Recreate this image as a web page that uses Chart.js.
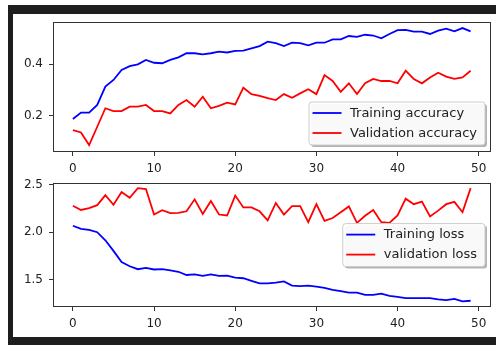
<!DOCTYPE html>
<html><head><meta charset="utf-8">
<script src="https://cdn.jsdelivr.net/npm/chart.js@4"></script>
<style>
html,body{margin:0;padding:0;background:#fff;width:496px;height:345px;overflow:hidden}
#frame{position:absolute;left:8px;top:5px;width:488px;height:340px;background:#1e1e1e}
#inner{position:absolute;left:13px;top:14px;width:483px;height:323px;background:#fff}
canvas{position:absolute;left:0}
#c1{top:0}
#c2{top:170px}
</style></head><body>
<div id="frame"></div><div id="inner"></div>
<canvas id="c1" width="496" height="175"></canvas>
<canvas id="c2" width="496" height="175"></canvas>
<script>
const epochs = Array.from({length:50},(_,i)=>i);
const trainAcc = [0.187,0.212,0.212,0.242,0.313,0.339,0.378,0.393,0.400,0.417,
 0.406,0.404,0.417,0.427,0.443,0.443,0.439,0.443,0.449,0.446,
 0.452,0.453,0.462,0.471,0.488,0.482,0.471,0.484,0.482,0.474,
 0.484,0.484,0.497,0.497,0.510,0.507,0.515,0.512,0.501,0.518,
 0.533,0.534,0.527,0.527,0.518,0.531,0.539,0.528,0.541,0.528];
const valAcc = [0.144,0.135,0.086,0.157,0.229,0.218,0.218,0.235,0.235,0.242,
 0.218,0.218,0.209,0.242,0.261,0.235,0.274,0.229,0.238,0.251,
 0.244,0.309,0.284,0.277,0.268,0.261,0.284,0.270,0.287,0.303,
 0.284,0.358,0.335,0.293,0.326,0.284,0.326,0.343,0.335,0.335,
 0.326,0.375,0.343,0.326,0.349,0.367,0.352,0.343,0.349,0.375];
const trainLoss = [2.068,2.034,2.024,2.000,1.915,1.803,1.685,1.641,1.610,1.624,
 1.607,1.610,1.597,1.583,1.549,1.556,1.539,1.556,1.539,1.542,
 1.522,1.515,1.488,1.461,1.461,1.468,1.481,1.437,1.431,1.437,
 1.427,1.414,1.393,1.380,1.363,1.363,1.339,1.339,1.353,1.329,
 1.319,1.305,1.305,1.305,1.305,1.292,1.285,1.298,1.271,1.278];
const valLoss = [2.278,2.234,2.254,2.285,2.390,2.288,2.424,2.363,2.464,2.454,
 2.186,2.231,2.200,2.203,2.220,2.346,2.193,2.329,2.186,2.176,
 2.386,2.261,2.261,2.220,2.125,2.308,2.186,2.275,2.275,2.105,
 2.295,2.119,2.149,2.210,2.271,2.098,2.173,2.234,2.105,2.098,
 2.176,2.353,2.295,2.322,2.166,2.227,2.295,2.319,2.210,2.464];
const xTicks = [0,10,20,30,40,50];
const accTicks = [0.2,0.4];
const lossTicks = [1.5,2.0,2.5];

const FONT = 'DejaVu Sans';
const TXT = '#222';

function rr(ctx,x,y,w,h,r){
  ctx.beginPath();
  ctx.moveTo(x+r,y);ctx.lineTo(x+w-r,y);ctx.quadraticCurveTo(x+w,y,x+w,y+r);
  ctx.lineTo(x+w,y+h-r);ctx.quadraticCurveTo(x+w,y+h,x+w-r,y+h);
  ctx.lineTo(x+r,y+h);ctx.quadraticCurveTo(x,y+h,x,y+h-r);
  ctx.lineTo(x,y+r);ctx.quadraticCurveTo(x,y,x+r,y);ctx.closePath();
}

const boxPlugin = {
  id:'mplBox',
  afterDatasetsDraw(chart, args, opts){
    const ctx = chart.ctx, a = chart.chartArea;
    ctx.save();
    ctx.strokeStyle = '#333'; ctx.lineWidth = 1;
    ctx.strokeRect(Math.round(a.left)+0.5, Math.round(a.top)+0.5,
      Math.round(a.right)-Math.round(a.left)-1, Math.round(a.bottom)-Math.round(a.top)-1);
    // legend
    ctx.font = '13px "'+FONT+'"';
    const ds = chart.data.datasets;
    const tw = Math.max(...ds.map(d=>ctx.measureText(d.label).width));
    const w = 3.5+29+8.5+tw+8, h = 43;
    const x = a.right - 5.5 - w;
    const y = opts.loc === 'lower right' ? a.bottom - 7 - h : (a.top+a.bottom)/2 - h/2;
    rr(ctx,x+2,y+2,w,h,3); ctx.fillStyle='rgba(0,0,0,0.3)'; ctx.fill();
    rr(ctx,x,y,w,h,3); ctx.fillStyle='rgba(255,255,255,0.92)'; ctx.fill();
    ctx.strokeStyle='#cccccc'; ctx.stroke();
    ds.forEach((d,i)=>{
      const cy = y + 11 + i*20;
      ctx.strokeStyle = d.borderColor; ctx.lineWidth = 1.8;
      ctx.beginPath(); ctx.moveTo(x+3.5,cy); ctx.lineTo(x+32.5,cy); ctx.stroke();
      ctx.fillStyle = TXT; ctx.textBaseline='middle'; ctx.textAlign='left';
      ctx.fillText(d.label, x+41, cy+0.5);
    });
    ctx.restore();
  }
};

function makeChart(id, sets, yMin, yMax, yTicks, pad, loc){
  return new Chart(document.getElementById(id), {
    type:'line',
    data:{labels:epochs, datasets:sets.map(s=>({
      label:s.label, data:s.data.map((v,i)=>({x:epochs[i],y:v})),
      borderColor:s.color, backgroundColor:s.color, borderWidth:1.8,
      pointRadius:0, tension:0, fill:false
    }))},
    options:{
      responsive:false, animation:false, devicePixelRatio:1,
      layout:{padding:pad},
      plugins:{legend:{display:false}, tooltip:{enabled:false}, mplBox:{loc}},
      scales:{
        x:{type:'linear', min:-2.45, max:51.45,
          afterBuildTicks:s=>{s.ticks = xTicks.map(v=>({value:v}));},
          afterFit:s=>{s.height=20;},
          grid:{drawOnChartArea:false, drawTicks:true, tickLength:4, color:'#333'},
          border:{display:false},
          ticks:{font:{family:FONT,size:12}, color:TXT, padding:6, maxRotation:0,
            callback:v=>String(v)}},
        y:{type:'linear', min:yMin, max:yMax,
          afterBuildTicks:s=>{s.ticks = yTicks.map(v=>({value:v}));},
          afterFit:s=>{s.width=53;},
          grid:{drawOnChartArea:false, drawTicks:true, tickLength:4, color:'#333'},
          border:{display:false},
          ticks:{font:{family:FONT,size:12}, color:TXT, padding:6,
            callback:v=>Number(v).toFixed(1)}}
      }
    },
    plugins:[boxPlugin]
  });
}

makeChart('c1', [
  {label:'Training accuracy', data:trainAcc, color:'#0000ff'},
  {label:'Validation accuracy', data:valAcc, color:'#ff0000'}
], 0.0588, 0.5634, accTicks, {left:0, top:22.3, right:5.5, bottom:3}, 'lower right');

makeChart('c2', [
  {label:'Training loss', data:trainLoss, color:'#0000ff'},
  {label:'validation loss', data:valLoss, color:'#ff0000'}
], 1.212, 2.516, lossTicks, {left:0, top:8.7, right:5.5, bottom:18}, 'center right');
</script>
</body></html>
